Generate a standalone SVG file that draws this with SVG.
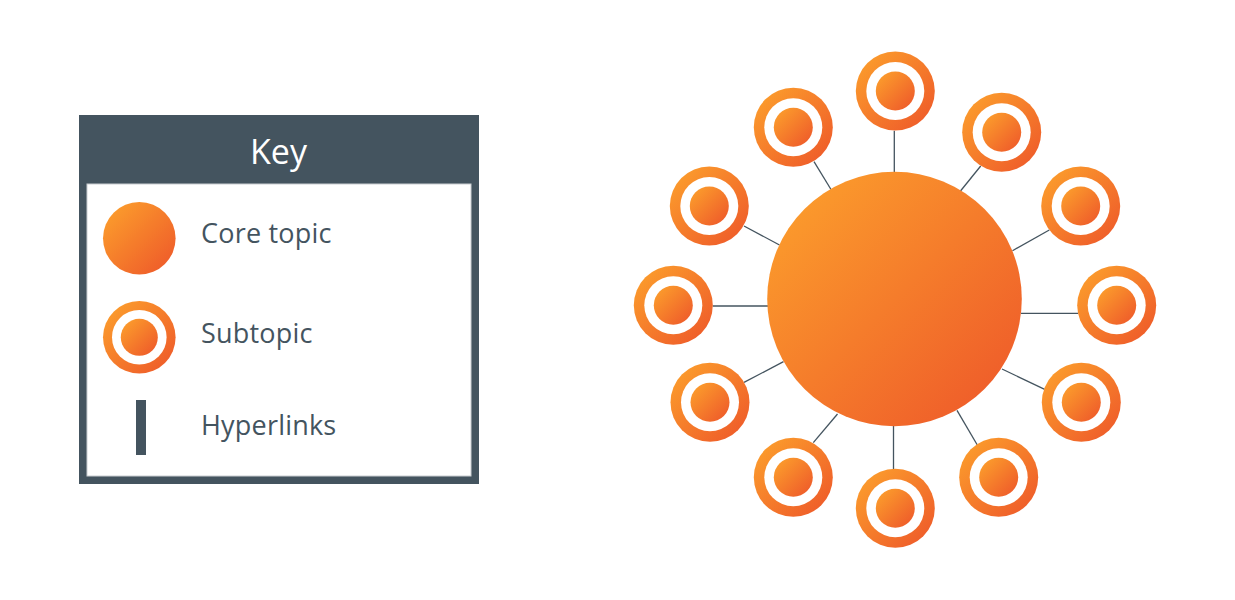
<svg xmlns="http://www.w3.org/2000/svg" width="1235" height="600" viewBox="0 0 1235 600">
<defs>
<linearGradient id="og" x1="0.12" y1="0.12" x2="0.88" y2="0.88">
<stop offset="0" stop-color="#fb9a2c"/>
<stop offset="1" stop-color="#ef5e2a"/>
</linearGradient>
<style>
.o{fill:url(#og)}
.w{fill:#ffffff}
.ln{stroke:#44545f;stroke-width:1.3;fill:none}
.t{font-family:"Open Sans","Liberation Sans",sans-serif;fill:#44545f;font-size:27px;letter-spacing:0.2px}
</style>
<g id="sub">
<circle class="o" r="39.5"/>
<circle class="w" r="29"/>
<circle class="o" r="19.5"/>
</g>
</defs>
<rect width="1235" height="600" fill="#ffffff"/>
<g id="key">
<rect x="79" y="115" width="400" height="369" fill="#44545f"/>
<rect x="87" y="184" width="384" height="292" fill="#ffffff" stroke="#c9cdd1" stroke-width="1"/>
<text x="278.5" y="163.5" text-anchor="middle" style="font-family:'Open Sans','Liberation Sans',sans-serif;font-size:34px;fill:#ffffff">Key</text>
<circle class="o" cx="139.3" cy="238.3" r="36.3"/>
<text class="t" x="201" y="242.5">Core topic</text>
<g transform="translate(139.3,337.3)">
<circle class="o" r="36.3"/>
<circle class="w" r="27.3"/>
<circle class="o" r="18.5"/>
</g>
<text class="t" x="201" y="342.7">Subtopic</text>
<rect x="136" y="400" width="10" height="55" fill="#44545f"/>
<text class="t" x="201" y="435">Hyperlinks</text>
</g>
<g id="connectors">
<line class="ln" x1="894.3" y1="130.7" x2="894.3" y2="172.5"/>
<line class="ln" x1="814" y1="161.7" x2="831" y2="189.5"/>
<line class="ln" x1="980.7" y1="166" x2="960.5" y2="191"/>
<line class="ln" x1="744" y1="226" x2="779.5" y2="245"/>
<line class="ln" x1="712.7" y1="306" x2="768" y2="306"/>
<line class="ln" x1="744" y1="382.3" x2="783.5" y2="361.7"/>
<line class="ln" x1="1012.5" y1="250.7" x2="1049.3" y2="230"/>
<line class="ln" x1="1021" y1="313.3" x2="1078" y2="313.3"/>
<line class="ln" x1="1002" y1="369" x2="1044.7" y2="389.3"/>
<line class="ln" x1="957" y1="410.3" x2="977.3" y2="445"/>
<line class="ln" x1="837.5" y1="414" x2="813.3" y2="442.7"/>
<line class="ln" x1="893.5" y1="426" x2="893.5" y2="469"/>
</g>
<g id="core"><circle class="o" cx="894.5" cy="299" r="127.3"/></g>
<g id="s1"><use href="#sub" x="895.3" y="91"/></g>
<g id="s2"><use href="#sub" x="1001.7" y="132.3"/></g>
<g id="s3"><use href="#sub" x="1080.7" y="206"/></g>
<g id="s4"><use href="#sub" x="1116.7" y="305.3"/></g>
<g id="s5"><use href="#sub" x="1081.3" y="402.3"/></g>
<g id="s6"><use href="#sub" x="998.7" y="477.3"/></g>
<g id="s7"><use href="#sub" x="895.3" y="508.3"/></g>
<g id="s8"><use href="#sub" x="793.3" y="477.3"/></g>
<g id="s9"><use href="#sub" x="710" y="402.3"/></g>
<g id="s10"><use href="#sub" x="673.3" y="305.3"/></g>
<g id="s11"><use href="#sub" x="709.3" y="206"/></g>
<g id="s12"><use href="#sub" x="793.3" y="127.3"/></g>
</svg>
